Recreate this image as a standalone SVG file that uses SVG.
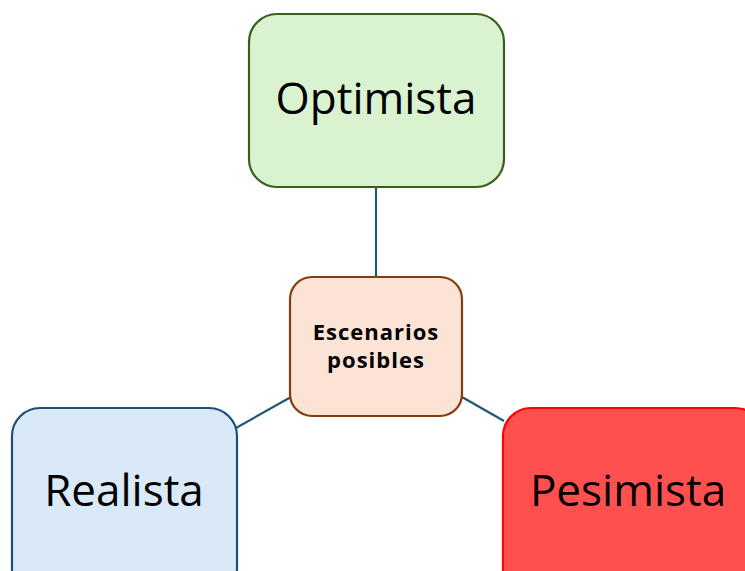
<svg xmlns="http://www.w3.org/2000/svg" width="745" height="571" viewBox="0 0 745 571">
  <style>
    .box { stroke-width: 2.2; }
    .label { font-family: "Open Sans", "Liberation Sans", sans-serif; fill: #000; text-anchor: middle; }
    .big { font-size: 44px; }
    .small { font-size: 22px; font-weight: bold; letter-spacing: 1px; }
    .link { stroke: #1f5a78; stroke-width: 2.2; fill: none; }
  </style>
  <rect width="745" height="571" fill="#ffffff"/>
  <g id="connectors">
    <line class="link" x1="376" y1="188" x2="376" y2="277"/>
    <line class="link" x1="236" y1="428" x2="291" y2="397"/>
    <line class="link" x1="462" y1="397" x2="504" y2="421"/>
  </g>
  <g id="optimista">
    <rect class="box" x="249" y="14" width="255" height="173" rx="28" fill="#d9f2d0" stroke="#38601c"/>
    <text class="label big" x="376" y="114">Optimista</text>
  </g>
  <g id="escenarios">
    <rect class="box" x="290" y="277" width="172" height="139" rx="22" fill="#fbe3d6" stroke="#843c0c"/>
    <text class="label small" x="376" y="340">Escenarios</text>
    <text class="label small" x="376" y="368">posibles</text>
  </g>
  <g id="realista">
    <rect class="box" x="12" y="408" width="225" height="190" rx="28" fill="#dae9f7" stroke="#1f4e79"/>
    <text class="label big" x="124" y="506">Realista</text>
  </g>
  <g id="pesimista">
    <rect class="box" x="503" y="408" width="260" height="190" rx="28" fill="#ff5050" stroke="#ff0000"/>
    <text class="label big" x="628" y="506">Pesimista</text>
  </g>
</svg>
